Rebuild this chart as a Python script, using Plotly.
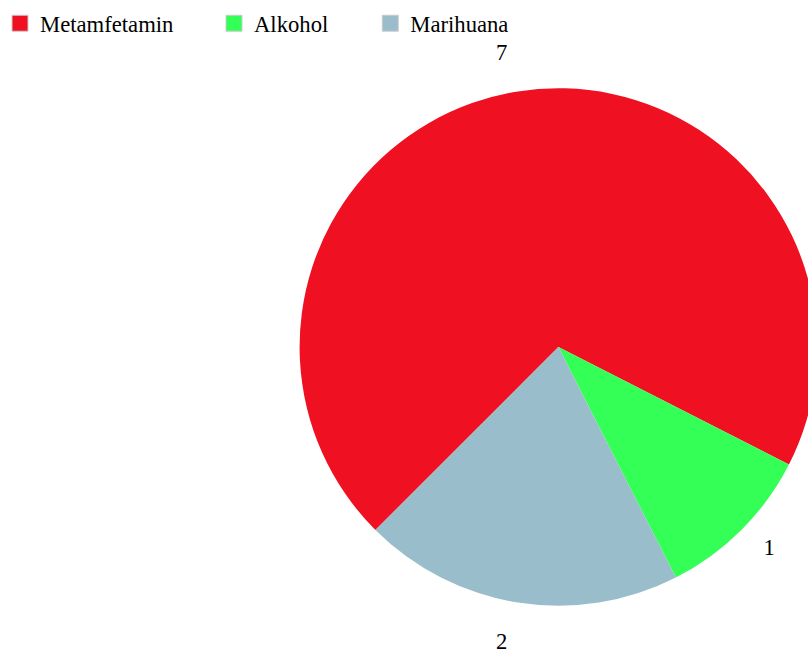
import plotly.graph_objects as go

# Drug categories and case counts
labels = ["Metamfetamin", "Alkohol", "Marihuana"]
values = [7, 1, 2]
colors = ["#EF1021", "#33FF57", "#9ABDCC"]

FONT = "Liberation Serif, Times New Roman, serif"
FONT_SIZE = 22.67

# Canvas geometry (pixels); the plot is wider than the window so the pie runs off the right edge
W, H = 852, 652
PAPER_W = 850          # paper spans x = 0 .. 850 (margin r = 2)
CX, CY = 557, 347      # pie centre
R_PIE = 260            # pie radius


def dom(r, cx=CX, cy=CY):
    return dict(x=[(cx - r) / PAPER_W, (cx + r) / PAPER_W],
                y=[(H - (cy + r)) / H, (H - (cy - r)) / H])


fig = go.Figure()

# Coloured pie
fig.add_trace(go.Pie(
    labels=labels,
    values=values,
    sort=False,
    direction="clockwise",
    rotation=225,
    marker=dict(colors=colors, line=dict(width=0)),
    textinfo="none",
    hoverinfo="label+value+percent",
    showlegend=False,
    domain=dom(R_PIE),
))

# Transparent rings carrying the value labels just outside the pie
label_rings = [
    (["%{value}", "", "%{value}"], dom(287)),
    (["", "%{value}", ""], dom(281, CX + 1, CY - 4)),
]
for templates, domain in label_rings:
    fig.add_trace(go.Pie(
        labels=labels,
        values=values,
        sort=False,
        direction="clockwise",
        rotation=225,
        marker=dict(colors=["rgba(0,0,0,0)"] * len(values), line=dict(width=0)),
        texttemplate=templates,
        textposition="outside",
        outsidetextfont=dict(family=FONT, size=FONT_SIZE, color="#000000"),
        hoverinfo="skip",
        showlegend=False,
        domain=domain,
    ))

# Legend entries, one legend box per category
legend_ids = ["legend", "legend2", "legend3"]
legend_px = [-4, 211, 368]
for lab, col, lid in zip(labels, colors, legend_ids):
    fig.add_trace(go.Scatter(
        x=[None], y=[None],
        mode="markers",
        name=lab,
        marker=dict(symbol="square", size=16, color=col,
                    line=dict(color="#cccccc", width=1)),
        legend=lid,
        hoverinfo="skip",
        showlegend=True,
    ))

legend_style = dict(
    orientation="h",
    xanchor="left",
    yanchor="middle",
    y=(H - 23.5) / H,
    bgcolor="rgba(0,0,0,0)",
    borderwidth=0,
    font=dict(family=FONT, size=FONT_SIZE, color="#000000"),
)

layout_legends = {}
for lid, px in zip(legend_ids, legend_px):
    layout_legends[lid] = dict(legend_style, x=px / PAPER_W)

fig.update_layout(
    width=W,
    height=H,
    margin=dict(l=0, r=W - PAPER_W, t=0, b=0),
    paper_bgcolor="white",
    plot_bgcolor="white",
    template="none",
    xaxis=dict(visible=False),
    yaxis=dict(visible=False),
    **layout_legends,
)

fig.write_html(
    "out.html",
    config={"displayModeBar": False},
    post_script=(
        "document.documentElement.style.overflow='hidden';"
        "document.body.style.overflow='hidden';"
        "document.body.style.margin='0';"
    ),
)
